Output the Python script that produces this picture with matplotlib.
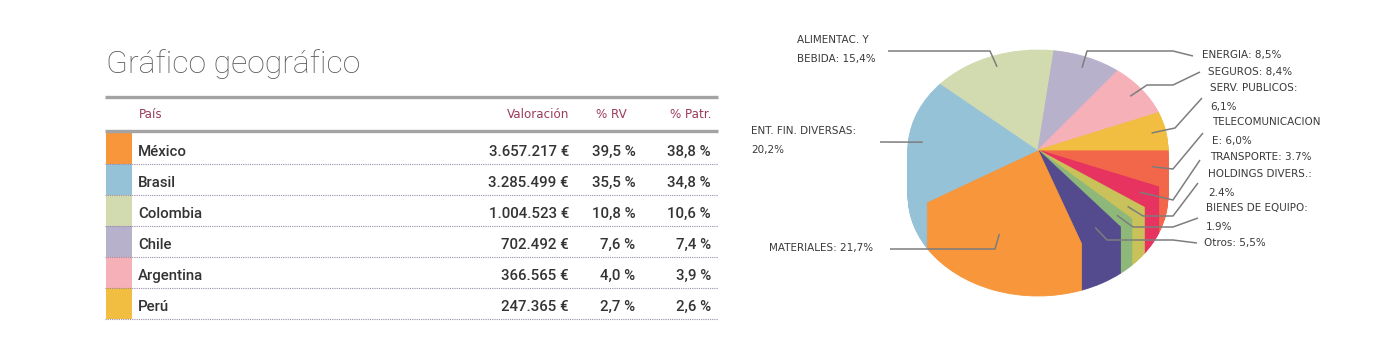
import numpy as np
import matplotlib.pyplot as plt

# --- tabla geográfica ---
paises = ['México', 'Brasil', 'Colombia', 'Chile', 'Argentina', 'Perú']
valoracion = ['3.657.217 €', '3.285.499 €', '1.004.523 €', '702.492 €', '366.565 €', '247.365 €']
pct_rv = ['39,5 %', '35,5 %', '10,8 %', '7,6 %', '4,0 %', '2,7 %']
pct_patr = ['38,8 %', '34,8 %', '10,6 %', '7,4 %', '3,9 %', '2,6 %']
colores_pais = ['#f7963b', '#96c2d8', '#d2dab0', '#b8b1cc', '#f5b0b8', '#f1be41']
cabecera = ['País', 'Valoración', '% RV', '% Patr.']

# --- sectores (sentido horario desde las 3 en punto) ---
etiquetas = ['TELECOMUNICACION\nE: 6,0%', 'TRANSPORTE: 3.7%', 'HOLDINGS DIVERS.:\n2.4%',
             'BIENES DE EQUIPO:\n1.9%', 'Otros: 5,5%', 'MATERIALES: 21,7%',
             'ENT. FIN. DIVERSAS:\n20,2%', 'ALIMENTAC. Y\nBEBIDA: 15,4%', 'ENERGIA: 8,5%',
             'SEGUROS: 8,4%', 'SERV. PUBLICOS:\n6,1%']
pesos = [6.0, 3.7, 2.4, 1.9, 5.5, 21.7, 20.2, 15.4, 8.5, 8.4, 6.1]
colores_sector = ['#f26649', '#e6335f', '#c9c25a', '#8eb879', '#544a8e', '#f7963b',
                  '#96c2d8', '#d2dab0', '#b8b1cc', '#f5b0b8', '#f1be41']

# posición de cada etiqueta (px) y codos de la línea guía
etiq_pos = [(1212, 121), (1210, 156), (1208, 173), (1206, 207), (1204, 242), (769, 247),
            (751, 130), (797, 39), (1202, 54), (1208, 71), (1210, 87)]
codos = [[(1173, 169), (1203, 133)],
         [(1173, 200), (1200, 160)],
         [(1143, 216), (1173, 216), (1198, 183)],
         [(1133, 227), (1173, 227), (1198, 218)],
         [(1107, 240), (1173, 240), (1197, 243)],
         [(995, 249), (890, 249)],
         [(880, 142)],
         [(990, 51), (888, 51)],
         [(1087, 51), (1173, 51), (1193, 56)],
         [(1147, 85), (1173, 85), (1200, 72)],
         [(1175, 128), (1202, 98)]]

W, H = 1397, 356
fig = plt.figure(figsize=(W / 100, H / 100), dpi=100)
fig.patch.set_facecolor('white')

# tarta en 3D: se apilan capas para dar grosor
CX, CY, RX, RY = 1038, 150, 130, 100
grosor = 0.46
pax = fig.add_axes([(CX - 150) / W, (H - CY - 160) / H, 300 / W, 300 / H])
n_capas = 46
for k in range(n_capas, -1, -1):
    cunas, _ = pax.pie(pesos, colors=colores_sector, startangle=0, counterclock=False,
                       center=(0, -grosor * k / n_capas), radius=1,
                       wedgeprops=dict(linewidth=0.6))
    for c in cunas:
        c.set_edgecolor(c.get_facecolor())
pax.set_aspect('auto')
pax.set_xlim(-150 / RX, 150 / RX)
pax.set_ylim(-160 / RY, 140 / RY)
pax.axis('off')

# ejes en píxeles para tabla, textos y guías
ax = fig.add_axes([0, 0, 1, 1])
ax.set_xlim(0, W)
ax.set_ylim(H, 0)
ax.axis('off')

fuente = 'Roboto'
ax.text(106, 73.3, 'Gráfico geográfico', fontsize=23, family=fuente, weight='light',
        color='#5a5a5a', va='baseline')

ax.hlines([96.5, 130.8], 105, 718, color='#a3a3a3', lw=2.4)
granate = '#9c3a5c'
ax.text(139, 117.5, cabecera[0], fontsize=8.6, color=granate, va='baseline')
ax.text(569, 117.5, cabecera[1], fontsize=8.6, color=granate, va='baseline', ha='right')
ax.text(627, 117.5, cabecera[2], fontsize=8.6, color=granate, va='baseline', ha='right')
ax.text(711, 117.5, cabecera[3], fontsize=8.6, color=granate, va='baseline', ha='right')

paso = 31.1
top0 = 132.7
filas = top0 + paso * np.arange(len(paises))
ax.bar(np.full(len(paises), 118.8), paso, width=25.6, bottom=filas, color=colores_pais)
ax.hlines(filas + paso, 105, 718, color='#9a8ca6', lw=0.8, linestyle=(0, (1, 1)))
for i, y in enumerate(filas):
    base = y + 23
    ax.text(138, base, paises[i], fontsize=10.8, family=fuente, weight='medium',
            color='#333333', va='baseline')
    ax.text(569, base, valoracion[i], fontsize=10.8, family=fuente, weight='medium',
            color='#333333', va='baseline', ha='right')
    ax.text(635.5, base, pct_rv[i], fontsize=10.8, family=fuente, weight='medium',
            color='#333333', va='baseline', ha='right')
    ax.text(711, base, pct_patr[i], fontsize=10.8, family=fuente, weight='medium',
            color='#333333', va='baseline', ha='right')

# guías y etiquetas de la tarta
frac = np.array(pesos) / np.sum(pesos)
medio = (np.cumsum(frac) - frac / 2) * 2 * np.pi
for i, lab in enumerate(etiquetas):
    x0 = CX + 0.89 * RX * np.cos(medio[i])
    y0 = CY + 0.89 * RY * np.sin(medio[i])
    xs = [x0] + [p[0] for p in codos[i]]
    ys = [y0] + [p[1] for p in codos[i]]
    ax.plot(xs, ys, color='#7d7d7d', lw=1.1, solid_capstyle='butt')
    tx, ty = etiq_pos[i]
    for j, linea in enumerate(lab.split('\n')):
        ax.text(tx, ty + 19.5 * j + 3.8, linea, fontsize=7.5, family='DejaVu Sans',
                color='#3a3a3a', va='baseline')

fig.savefig('out.png', dpi=100)
